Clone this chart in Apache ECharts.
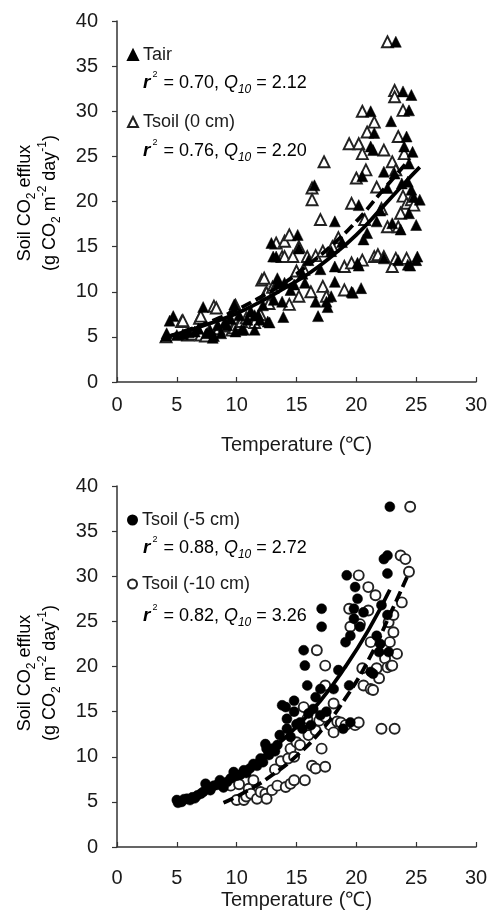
<!DOCTYPE html>
<html>
<head>
<meta charset="utf-8">
<script src="https://cdn.jsdelivr.net/npm/echarts@6/dist/echarts.min.js"></script>
<style>html,body{margin:0;padding:0;background:#fff}#c{width:491px;height:918px}</style>
</head>
<body>
<div id="c"></div>
<script>
// ---- data ----
var xTicks = [0, 5, 10, 15, 20, 25, 30];
var yTicks = [0, 5, 10, 15, 20, 25, 30, 35, 40];
var seriesNames = ['Tair', 'Tsoil (0 cm)', 'Tsoil (-5 cm)', 'Tsoil (-10 cm)'];
var statsTop = ['0.70', '2.12', '0.76', '2.20'];
var statsBottom = ['0.88', '2.72', '0.82', '3.26'];

var tair = [[4.1,5.1],[4.15,5.4],[4.4,6.8],[4.7,7.3],[5.0,5.2],[5.5,5.3],[6.0,5.5],[6.5,5.6],[6.8,5.9],[7.2,8.3],[7.5,5.4],[7.8,5.7],[8.0,4.9],[8.1,5.1],[8.4,6.3],[8.7,5.4],[9.0,6.6],[9.2,6.3],[9.5,7.0],[9.8,8.6],[9.9,5.6],[10.2,7.4],[10.4,5.8],[10.6,5.8],[10.9,6.9],[11.2,7.8],[11.5,5.8],[11.5,7.4],[11.8,7.45],[11.95,6.9],[12.2,8.5],[12.6,6.7],[12.75,6.6],[12.9,15.4],[13.05,13.9],[13.1,9.1],[13.3,13.9],[13.4,11.5],[13.5,11.1],[13.8,8.9],[13.9,7.2],[14.0,11.0],[14.5,10.2],[14.8,10.8],[15.1,16.3],[15.2,14.8],[15.5,12.0],[15.7,11.0],[16.0,13.5],[16.5,21.8],[16.6,8.9],[16.8,7.3],[17.0,12.5],[17.5,8.9],[17.6,8.3],[17.9,9.5],[17.9,14.5],[18.2,17.8],[18.2,12.8],[18.2,11.1],[18.8,15.5],[19.6,10.0],[19.7,9.9],[20.1,13.2],[20.2,12.9],[20.2,19.6],[20.4,10.4],[20.5,22.8],[20.6,15.8],[20.9,16.5],[21.2,30.0],[21.2,26.1],[21.4,25.7],[21.5,27.6],[21.7,17.8],[22.0,19.0],[22.3,23.3],[22.3,13.7],[22.6,21.5],[22.9,28.9],[23.0,17.6],[23.2,23.1],[23.3,37.7],[23.5,13.5],[23.7,16.9],[23.8,22.0],[23.9,32.2],[24.0,26.1],[24.2,27.2],[24.3,22.2],[24.3,13.0],[24.4,30.1],[24.4,24.2],[24.4,18.7],[24.6,31.8],[24.6,21.3],[24.7,25.5],[25.0,17.4],[25.0,13.5],[25.1,13.9],[25.3,20.2],[24.5,12.9],[24.8,20.5]];

var tsoil0 = [[4.1,5.0],[5.4,6.7],[5.5,6.8],[5.9,5.2],[6.3,5.3],[6.9,7.05],[7.0,7.3],[7.0,5.2],[7.4,5.1],[7.7,5.6],[8.1,8.4],[8.3,8.2],[8.5,5.9],[9.0,6.2],[9.3,6.6],[9.6,5.75],[9.8,6.0],[9.8,8.2],[9.9,8.5],[10.2,6.4],[10.4,6.7],[10.8,7.1],[11.1,7.45],[11.5,6.6],[12.0,7.45],[12.1,11.3],[12.3,11.5],[12.4,9.8],[12.5,9.9],[12.7,8.7],[13.0,10.5],[13.3,15.4],[13.4,11.0],[13.8,13.9],[14.0,15.6],[14.0,13.9],[14.4,16.3],[14.4,8.6],[14.7,13.9],[15.0,12.3],[15.2,15.0],[15.2,9.5],[15.6,12.5],[15.9,13.9],[16.2,10.0],[16.3,21.5],[16.3,20.2],[16.6,14.0],[17.0,18.0],[17.2,14.5],[17.2,10.6],[17.3,24.4],[17.5,9.5],[18.0,15.0],[18.5,16.0],[19.0,10.2],[19.0,12.8],[19.4,26.4],[19.6,19.8],[19.6,13.2],[20.0,22.6],[20.2,26.4],[20.5,25.3],[20.5,30.0],[20.5,13.5],[20.7,18.0],[20.8,23.5],[20.9,27.7],[21.5,28.8],[21.5,13.9],[21.7,21.6],[21.8,14.1],[22.1,19.2],[22.3,25.7],[22.3,13.9],[22.6,37.7],[22.6,17.2],[23.0,24.4],[23.0,12.8],[23.2,32.3],[23.2,31.6],[23.3,23.5],[23.3,13.7],[23.5,27.2],[23.5,17.2],[23.7,18.7],[23.9,30.1],[23.9,20.6],[24.0,25.3],[24.2,19.8],[24.2,13.7],[24.6,20.2],[24.8,19.6]];

var tsoil5 = [[5.0,5.2],[5.1,4.9],[5.4,5.0],[5.6,5.3],[5.85,5.35],[6.1,5.2],[6.3,5.5],[6.5,5.4],[6.7,5.7],[7.0,5.9],[7.2,6.1],[7.4,7.0],[7.5,6.5],[7.8,6.3],[8.1,6.8],[8.4,6.9],[8.6,7.4],[8.9,6.6],[9.2,7.2],[9.5,7.6],[9.75,8.3],[10.0,7.9],[10.3,8.0],[10.6,8.5],[10.8,8.2],[11.1,8.7],[11.4,9.2],[11.7,9.0],[12.0,9.8],[12.2,9.4],[12.4,11.4],[12.5,10.9],[12.7,10.2],[12.95,10.9],[13.2,10.6],[13.4,11.3],[13.6,12.4],[13.8,15.7],[14.1,15.5],[14.2,14.2],[14.2,13.1],[14.5,12.2],[14.8,16.2],[14.8,15.0],[15.0,13.6],[15.3,13.8],[15.5,13.1],[15.6,21.8],[15.7,20.1],[15.9,17.9],[16.0,14.8],[16.2,13.5],[16.4,15.3],[16.6,16.6],[17.0,14.6],[17.0,17.5],[17.1,24.4],[17.1,26.4],[17.5,15.0],[18.1,17.5],[18.5,19.6],[18.9,13.1],[19.1,22.7],[19.2,30.1],[19.4,17.9],[19.5,23.4],[19.5,13.8],[19.8,26.4],[19.8,25.3],[19.9,28.8],[20.1,27.5],[20.3,24.4],[20.6,26.0],[21.2,19.4],[21.4,19.2],[21.7,23.4],[21.9,21.6],[22.0,22.5],[22.1,26.8],[22.3,31.9],[22.6,32.3],[22.6,30.3],[22.6,25.7],[22.7,21.6],[22.8,37.7]];

var tsoil10 = [[9.5,6.8],[10.0,5.2],[10.2,6.95],[10.6,5.2],[10.8,5.6],[11.0,6.45],[11.2,5.9],[11.4,7.4],[11.7,5.35],[12.0,6.1],[12.4,5.9],[12.5,5.35],[12.95,6.3],[13.2,8.6],[13.4,6.8],[13.7,9.5],[14.1,6.65],[14.3,9.8],[14.5,7.0],[14.5,10.9],[14.8,7.4],[14.8,10.0],[15.0,11.6],[15.3,11.3],[15.6,15.5],[15.7,7.4],[15.9,14.2],[16.0,12.4],[16.3,9.0],[16.6,8.7],[16.6,12.9],[16.7,21.8],[16.9,14.0],[17.1,10.9],[17.4,8.9],[17.4,20.1],[17.4,17.9],[17.4,14.4],[17.8,13.5],[18.1,15.9],[18.1,12.7],[18.4,13.9],[18.7,13.8],[19.1,13.5],[19.4,26.4],[19.5,24.4],[19.9,13.5],[20.2,13.8],[20.2,30.1],[20.3,24.7],[20.5,19.8],[20.6,17.9],[21.0,28.8],[21.0,26.2],[21.2,22.7],[21.2,17.5],[21.4,17.4],[21.6,27.9],[21.7,19.8],[21.9,18.7],[22.1,13.1],[22.3,22.2],[22.4,20.9],[22.6,19.9],[22.7,24.9],[22.8,22.7],[22.9,20.1],[23.0,20.1],[23.1,25.7],[23.1,23.8],[23.2,13.1],[23.4,21.4],[23.7,32.3],[23.8,27.1],[24.1,31.9],[24.4,30.5],[24.5,37.7]];

// fitted curves
var fitTair = [[4.2,5.0],[6,5.7],[8,6.6],[10,7.6],[12,8.9],[14,10.4],[16,12.0],[18,14.0],[20,16.3],[22,19.1],[24,22.0],[25.3,23.8]];
var fitTsoil0 = [[4.2,5.0],[6,5.8],[8,6.8],[10,8.0],[12,9.4],[14,11.0],[16,13.0],[18,15.2],[20,17.8],[22,20.9],[24.4,24.6]];
var fitTsoil5 = [[5.0,4.9],[7,6.0],[9,7.3],[11,8.9],[13,10.9],[15,13.3],[17,16.2],[19,19.8],[21,24.0],[22.8,28.5]];
var fitTsoil10 = [[8.9,4.9],[11,6.3],[13,8.0],[15,10.1],[17,12.8],[19,16.3],[21,20.7],[23,26.3],[24.4,30.4]];

// ---- chart ----
var FONT = '"Liberation Sans", Arial, sans-serif';
var TXT = '#1a1a1a';
var chart = echarts.init(document.getElementById('c'), null, {renderer: 'canvas'});

function xAxis(gi, labelMargin, nameGap) {
  return {
    type: 'value', gridIndex: gi, min: xTicks[0], max: xTicks[xTicks.length - 1], interval: 5,
    name: 'Temperature (\u2103)', nameLocation: 'middle', nameGap: nameGap,
    nameTextStyle: {fontFamily: FONT, fontSize: 20, color: TXT},
    axisLine: {show: true, onZero: false, lineStyle: {color: '#333', width: 1.5}},
    axisTick: {show: true, inside: true, length: 5, lineStyle: {color: '#333', width: 1.2}},
    axisLabel: {fontFamily: FONT, fontSize: 20, color: TXT, margin: labelMargin},
    splitLine: {show: false}
  };
}
function yAxis(gi) {
  return {
    type: 'value', gridIndex: gi, min: yTicks[0], max: yTicks[yTicks.length - 1], interval: 5,
    axisLine: {show: true, onZero: false, lineStyle: {color: '#333', width: 1.5}},
    axisTick: {show: true, inside: false, length: 5, lineStyle: {color: '#333', width: 1.2}},
    axisLabel: {fontFamily: FONT, fontSize: 20, color: TXT, margin: 19},
    splitLine: {show: false}
  };
}
function scatter(name, data, gi, symbol, filled, size) {
  return {
    type: 'scatter', name: name, data: data, xAxisIndex: gi, yAxisIndex: gi,
    symbol: symbol, symbolSize: size, z: 2,
    itemStyle: filled ? {color: '#000', borderColor: '#000', borderWidth: 0.5, opacity: 1}
                      : {color: '#fff', borderColor: '#222', borderWidth: 1.9, opacity: 1}
  };
}
function fit(data, gi, dashed) {
  return {
    type: 'line', data: data, xAxisIndex: gi, yAxisIndex: gi, smooth: true,
    showSymbol: false, symbol: 'none', silent: true, z: 5,
    lineStyle: {color: '#000', width: 3.8, type: dashed ? [11, 5] : 'solid'}
  };
}

var mainR = {fontFamily: FONT, fontSize: 18, color: TXT, lineHeight: 26, verticalAlign: 'middle'};
var subR = {fontFamily: FONT, fontSize: 12, color: TXT, lineHeight: 14, verticalAlign: 'bottom'};
var supR = {fontFamily: FONT, fontSize: 12, color: TXT, lineHeight: 18, verticalAlign: 'top'};
var richY = {m: mainR, sub: subR, sup: supR};
var richS = {
  m: mainR,
  r: {fontFamily: FONT, fontSize: 19, color: TXT, fontStyle: 'italic', fontWeight: 'bold', lineHeight: 26, verticalAlign: 'middle'},
  sup: {fontFamily: FONT, fontSize: 9, color: TXT, lineHeight: 20, verticalAlign: 'top', padding: [0, 1, 0, 2]},
  q: {fontFamily: FONT, fontSize: 18, color: TXT, fontStyle: 'italic', lineHeight: 26, verticalAlign: 'middle'},
  sub: {fontFamily: FONT, fontSize: 12, color: TXT, fontStyle: 'italic', lineHeight: 14, verticalAlign: 'bottom'}
};
function stat(x, y, r2, q10) {
  return {type: 'text', x: x, y: y, silent: true, z: 10, style: {
    text: '{r|r}{sup|2}{m| = ' + r2 + ', }{q|Q}{sub|10}{m| = ' + q10 + '}',
    rich: richS, textVerticalAlign: 'middle', verticalAlign: 'middle', textAlign: 'left', align: 'left'}};
}
function ytitle(x, y, txt) {
  return {type: 'text', x: x, y: y, rotation: Math.PI / 2, silent: true, z: 10, style: {
    text: txt, rich: richY, textAlign: 'center', align: 'center', textVerticalAlign: 'middle', verticalAlign: 'middle'}};
}

var option = {
  animation: false,
  backgroundColor: '#fff',
  grid: [
    {left: 117, top: 21, width: 359, height: 361},
    {left: 117, top: 486, width: 359, height: 361}
  ],
  xAxis: [xAxis(0, 13, 53), xAxis(1, 21, 43)],
  yAxis: [yAxis(0), yAxis(1)],
  legend: [
    {orient: 'vertical', left: 127, top: 45, padding: 0, itemWidth: 10, itemHeight: 10, itemGap: 47,
     data: [seriesNames[0], seriesNames[1]],
     textStyle: {fontFamily: FONT, fontSize: 18, color: TXT, lineHeight: 20}},
    {orient: 'vertical', left: 127, top: 510, padding: 0, itemWidth: 9, itemHeight: 9, itemGap: 44,
     data: [seriesNames[2], seriesNames[3]],
     textStyle: {fontFamily: FONT, fontSize: 18, color: TXT, lineHeight: 20}}
  ],
  graphic: [
    ytitle(25, 203, '{m|Soil CO}{sub|2}{m| efflux}'),
    ytitle(50, 203, '{m|(g CO}{sub|2}{m| m}{sup|-2}{m| day}{sup|-1}{m|)}'),
    ytitle(25, 673, '{m|Soil CO}{sub|2}{m| efflux}'),
    ytitle(50, 673, '{m|(g CO}{sub|2}{m| m}{sup|-2}{m| day}{sup|-1}{m|)}'),
    stat(143, 83, statsTop[0], statsTop[1]),
    stat(143, 151, statsTop[2], statsTop[3]),
    stat(143, 548, statsBottom[0], statsBottom[1]),
    stat(143, 616, statsBottom[2], statsBottom[3])
  ],
  series: [
    scatter(seriesNames[1], tsoil0, 0, 'triangle', false, 11),
    scatter(seriesNames[0], tair, 0, 'triangle', true, 11),
    fit(fitTair, 0, false),
    fit(fitTsoil0, 0, true),
    scatter(seriesNames[3], tsoil10, 1, 'circle', false, 10),
    scatter(seriesNames[2], tsoil5, 1, 'circle', true, 10),
    fit(fitTsoil5, 1, false),
    fit(fitTsoil10, 1, true)
  ]
};
chart.setOption(option);
</script>
</body>
</html>
